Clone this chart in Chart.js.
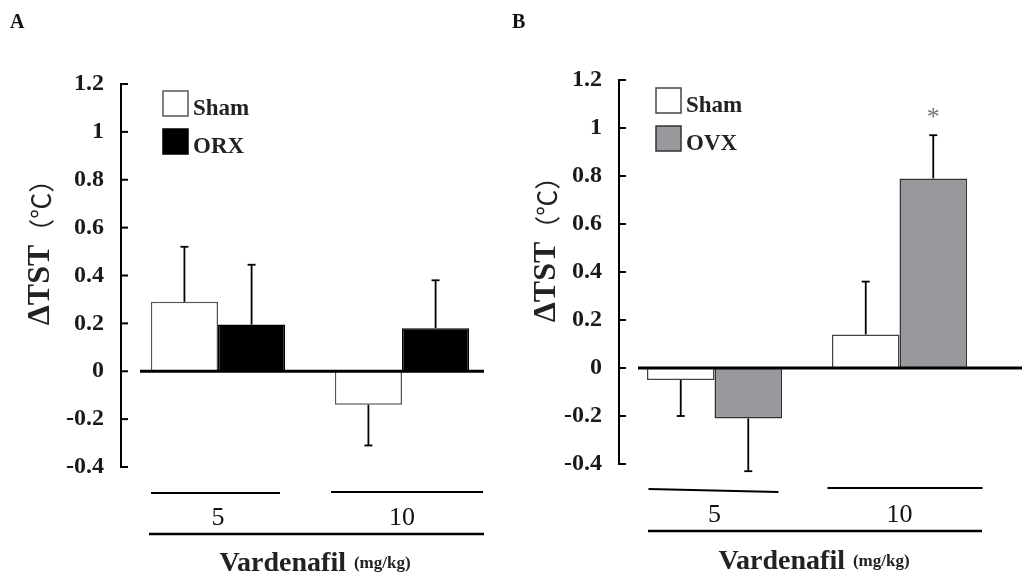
<!DOCTYPE html>
<html>
<head>
<meta charset="utf-8">
<title>Vardenafil ΔTST</title>
<script src="https://cdn.jsdelivr.net/npm/chart.js@4.4.1/dist/chart.umd.min.js"></script>
<style>
  html, body { margin: 0; padding: 0; background: #fff; }
  .wrap { position: relative; width: 1022px; height: 578px; }
  canvas { position: absolute; top: 0; }
  #chartA { left: 0; }
  #chartB { left: 511px; }
</style>
</head>
<body>
<div class="wrap">
  <canvas id="chartA" width="511" height="578"></canvas>
  <canvas id="chartB" width="511" height="578"></canvas>
</div>
<script>
const doses = ["5", "10"];
const yMin = -0.4, yMax = 1.2, yStep = 0.2;
const xTitle = "Vardenafil";
const xUnit = "(mg/kg)";
const yTitle = "ΔTST";
const yUnit = "（℃）";

// panel A: male (sham vs castrated)
const shamA = [0.29, -0.14];
const shamAErr = [0.23, 0.17];
const orx = [0.195, 0.18];
const orxErr = [0.25, 0.20];

// panel B: female (sham vs ovariectomised)
const shamB = [-0.05, 0.14];
const shamBErr = [0.15, 0.22];
const ovx = [-0.21, 0.79];
const ovxErr = [0.22, 0.18];
const ovxMarks = ["", "*"];

const SERIF = '"Liberation Serif", "Times New Roman", serif';

function line(ctx, x1, y1, x2, y2) {
  ctx.beginPath();
  ctx.moveTo(x1, y1);
  ctx.lineTo(x2, y2);
  ctx.stroke();
}

// everything the old figure has that chart.js doesn't draw by itself
const panelDecor = {
  id: "panelDecor",
  afterDatasetsDraw(chart, args, o) {
    const { ctx, scales: { x, y } } = chart;
    const zeroY = y.getPixelForValue(0);
    ctx.save();
    ctx.strokeStyle = "#000";
    ctx.lineCap = "butt";

    ctx.lineWidth = 3;
    line(ctx, o.zeroFrom, zeroY, o.zeroTo, zeroY);

    // one-sided SEM bars + significance marks
    chart.data.datasets.forEach((ds, di) => {
      const meta = chart.getDatasetMeta(di);
      meta.data.forEach((bar, i) => {
        const v = ds.data[i];
        const end = y.getPixelForValue(v + (v < 0 ? -1 : 1) * ds.err[i]);
        ctx.strokeStyle = "#000";
        ctx.lineWidth = 1.8;
        line(ctx, bar.x, bar.y, bar.x, end);
        line(ctx, bar.x - 4, end, bar.x + 4, end);
        if (ds.marks && ds.marks[i]) {
          ctx.fillStyle = "#777";
          ctx.font = `26px ${SERIF}`;
          ctx.textAlign = "center";
          ctx.textBaseline = "alphabetic";
          ctx.fillText(ds.marks[i], bar.x, end - 10);
        }
      });
    });

    // y axis with inward ticks
    ctx.strokeStyle = "#000";
    ctx.lineWidth = 2;
    line(ctx, o.axisX, y.getPixelForValue(yMax) - 1, o.axisX, y.getPixelForValue(yMin) + 1);
    y.ticks.forEach((t) => {
      const py = y.getPixelForValue(t.value);
      line(ctx, o.axisX, py, o.axisX + 7, py);
    });

    // dose groups under the plot
    ctx.fillStyle = "#111";
    ctx.font = `26px ${SERIF}`;
    ctx.textAlign = "center";
    ctx.textBaseline = "middle";
    chart.data.labels.forEach((d, i) => {
      const cx = x.getPixelForValue(i);
      const [l, r] = o.spans[i];
      ctx.lineWidth = 2;
      line(ctx, cx + l, o.spanY[i], cx + r, o.spanY[i] + (o.spanTilt[i] || 0));
      ctx.fillText(d, cx, o.doseY);
    });
    ctx.lineWidth = 2.5;
    line(ctx, o.baseFrom, o.baseY, o.baseTo, o.baseY);

    // x title
    ctx.textAlign = "left";
    ctx.textBaseline = "alphabetic";
    ctx.font = `bold 28px ${SERIF}`;
    const w1 = ctx.measureText(xTitle).width + 8;
    ctx.font = `bold 17px ${SERIF}`;
    const w2 = ctx.measureText(xUnit).width;
    let sx = o.titleX - (w1 + w2) / 2;
    ctx.fillStyle = "#222";
    ctx.font = `bold 28px ${SERIF}`;
    ctx.fillText(xTitle, sx, o.titleY);
    ctx.font = `bold 17px ${SERIF}`;
    ctx.fillText(xUnit, sx + w1, o.titleY - 3);

    // y title, rotated
    ctx.save();
    ctx.translate(o.yTitleX, o.yTitleY);
    ctx.rotate(-Math.PI / 2);
    ctx.textBaseline = "middle";
    ctx.font = `bold 32px ${SERIF}`;
    const wa = ctx.measureText(yTitle).width;
    ctx.font = `26px "Noto Sans CJK JP", sans-serif`;
    const wb = ctx.measureText(yUnit).width;
    const start = -(wa + wb) / 2;
    ctx.font = `bold 32px ${SERIF}`;
    ctx.fillText(yTitle, start, 0);
    ctx.font = `26px "Noto Sans CJK JP", sans-serif`;
    ctx.fillText(yUnit, start + wa, 0);
    ctx.restore();

    // legend
    chart.data.datasets.forEach((ds, di) => {
      const top = o.legendY[di];
      ctx.fillStyle = ds.backgroundColor;
      ctx.fillRect(o.legendX, top, 25, 25);
      ctx.strokeStyle = ds.borderColor;
      ctx.lineWidth = 1.5;
      ctx.strokeRect(o.legendX, top, 25, 25);
      ctx.fillStyle = "#222";
      ctx.font = `bold 23px ${SERIF}`;
      ctx.textAlign = "left";
      ctx.fillText(ds.label, o.legendX + 30, top + 24);
    });

    // panel letter
    ctx.fillStyle = "#111";
    ctx.font = `bold 20px ${SERIF}`;
    ctx.fillText(o.letter, o.letterX, 28);
    ctx.restore();
  },
};

function buildChart(id, datasets, decor, pad) {
  return new Chart(document.getElementById(id), {
    type: "bar",
    data: { labels: doses, datasets },
    options: {
      responsive: false,
      animation: false,
      devicePixelRatio: 1,
      layout: { padding: pad },
      datasets: { bar: { barPercentage: 1, categoryPercentage: 0.73 } },
      plugins: {
        legend: { display: false },
        tooltip: { enabled: false },
        panelDecor: decor,
      },
      scales: {
        x: { display: false },
        y: {
          min: yMin,
          max: yMax,
          afterFit: (s) => { s.width = decor.areaLeft; },
          grid: { display: false, drawTicks: false },
          border: { display: false },
          ticks: {
            stepSize: yStep,
            padding: decor.tickPad,
            color: "#1a1a1a",
            font: { family: SERIF, size: 24, weight: "bold" },
            callback: (v) => String(Math.round(v * 10) / 10),
          },
        },
      },
    },
    plugins: [panelDecor],
  });
}

buildChart("chartA", [
  { label: "Sham", data: shamA, err: shamAErr, backgroundColor: "#ffffff", borderColor: "#555555", borderWidth: 1.5 },
  { label: "ORX", data: orx, err: orxErr, backgroundColor: "#000000", borderColor: "#000000", borderWidth: 1.5 },
], {
  letter: "A", letterX: 10,
  areaLeft: 126, tickPad: 22, axisX: 121,
  zeroFrom: 140, zeroTo: 484,
  spans: [[-67, 62], [-71, 81]], spanY: [493, 492], spanTilt: [0, 0],
  doseY: 518, baseFrom: 149, baseTo: 484, baseY: 534,
  titleX: 315, titleY: 571,
  yTitleX: 41, yTitleY: 246,
  legendX: 163, legendY: [91, 129],
}, { left: 0, right: 17, top: 84, bottom: 111 });

buildChart("chartB", [
  { label: "Sham", data: shamB, err: shamBErr, backgroundColor: "#ffffff", borderColor: "#444444", borderWidth: 1.5 },
  { label: "OVX", data: ovx, err: ovxErr, marks: ovxMarks, backgroundColor: "#98999c", borderColor: "#333333", borderWidth: 1.5 },
], {
  letter: "B", letterX: 1,
  areaLeft: 111, tickPad: 20, axisX: 108,
  zeroFrom: 127, zeroTo: 511,
  spans: [[-66, 64], [-72, 83]], spanY: [489, 488], spanTilt: [3, 0],
  doseY: 515, baseFrom: 137, baseTo: 471, baseY: 531,
  titleX: 303, titleY: 569,
  yTitleX: 36, yTitleY: 243,
  legendX: 145, legendY: [88, 126],
}, { left: 0, right: 30, top: 80, bottom: 114 });
</script>
</body>
</html>
